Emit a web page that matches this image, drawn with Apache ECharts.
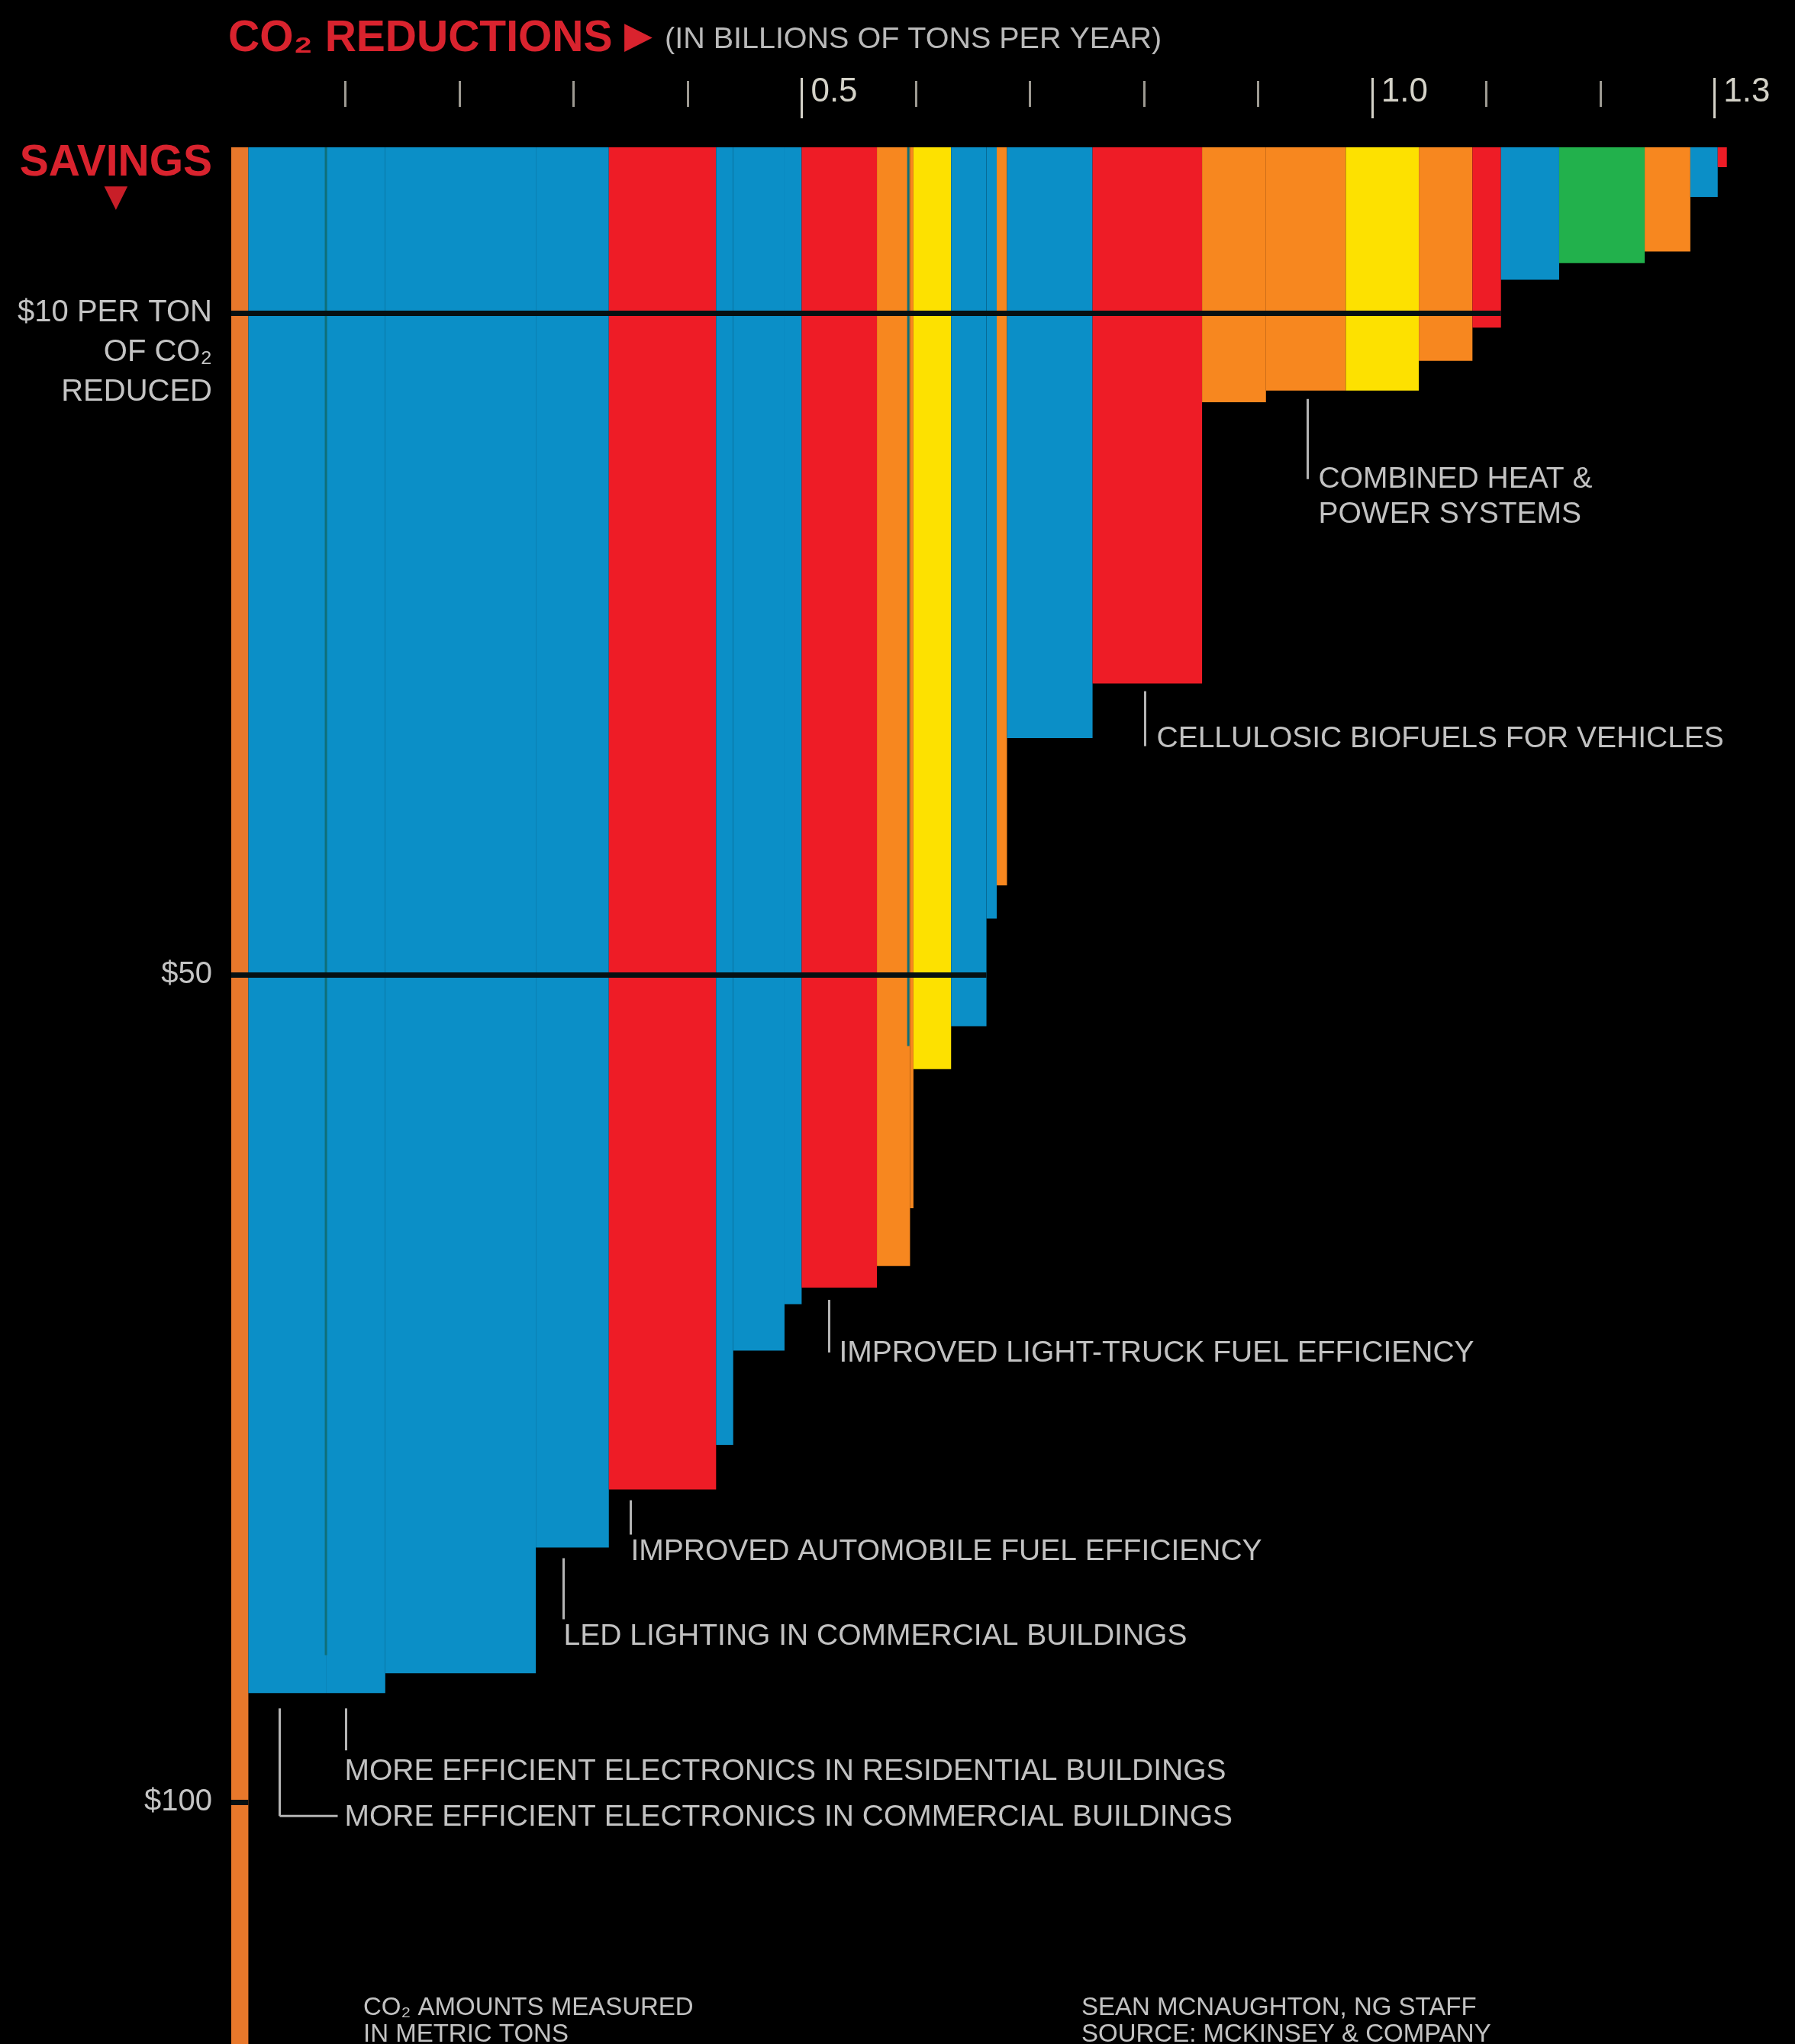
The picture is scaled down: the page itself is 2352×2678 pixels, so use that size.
<!DOCTYPE html>
<html>
<head>
<meta charset="utf-8">
<script src="https://cdn.jsdelivr.net/npm/echarts@6/dist/echarts.min.js"></script>
<style>
  html, body { margin: 0; padding: 0; background: #000; }
  #chart { width: 2352px; height: 2678px; }
</style>
</head>
<body>
<div id="chart"></div>
<script>
// CO2 abatement measures, ordered by savings per ton (largest first).
// Width of each bar: reduction in billions of tons per year.
const reductions = [
  0.015, 0.068, 0.052, 0.132, 0.064, 0.094, 0.015, 0.045, 0.015, 0.066,
  0.029, 0.003, 0.033, 0.031, 0.009, 0.009, 0.075, 0.096, 0.056, 0.070,
  0.064, 0.047, 0.025, 0.051, 0.075, 0.040, 0.024, 0.008
];
// Height of each bar: savings in dollars per ton of CO2 reduced
// (the first measure runs past the bottom of the scale).
const savings = [
  120, 93.4, 93.4, 92.2, 84.6, 81.1, 78.4, 72.7, 69.9, 68.9,
  67.6, 64.1, 55.7, 53.1, 46.6, 44.6, 35.7, 32.4, 15.4, 14.7,
  14.7, 12.9, 10.9, 8.0, 7.0, 6.3, 3.0, 1.2
];
const colorKeys = [
  'strip', 'blue', 'blue', 'blue', 'blue', 'red', 'blue', 'blue', 'blue', 'red',
  'orange', 'orange', 'yellow', 'blue', 'blue', 'orange', 'blue', 'red', 'orange', 'orange',
  'yellow', 'orange', 'red', 'blue', 'green', 'orange', 'blue', 'red'
];
const measureNames = [
  '', 'MORE EFFICIENT ELECTRONICS IN COMMERCIAL BUILDINGS',
  'MORE EFFICIENT ELECTRONICS IN RESIDENTIAL BUILDINGS', '',
  'LED LIGHTING IN COMMERCIAL BUILDINGS', 'IMPROVED AUTOMOBILE FUEL EFFICIENCY',
  '', '', '', 'IMPROVED LIGHT-TRUCK FUEL EFFICIENCY',
  '', '', '', '', '', '', '', 'CELLULOSIC BIOFUELS FOR VEHICLES', '',
  'COMBINED HEAT &\nPOWER SYSTEMS',
  '', '', '', '', '', '', '', ''
];
// Thin divider strokes inside the stack: [x position, savings where it stops]
const dividerX = [0.083, 0.5935];
const dividerEnd = [91.1, 54.3];

const xMinorTicks = [0.1, 0.2, 0.3, 0.4, 0.6, 0.7, 0.8, 0.9, 1.1, 1.2];
const xMajorTicks = [0.5, 1.0, 1.3];
const yLabelValues = [10, 50, 100];
const referenceLines = [10, 50, 100];

const FONT = "'Liberation Sans', Arial, sans-serif";
const palette = {
  strip: '#e8782b', blue: '#0b8fc7', red: '#ee1c26',
  orange: '#f7871f', yellow: '#fde100', green: '#22b14c'
};

// Callout placement relative to each labelled bar (pixels)
const calloutLayout = {
  'MORE EFFICIENT ELECTRONICS IN COMMERCIAL BUILDINGS': { dx: 41, gap: 20, len: 141, elbow: 76, tdx: 85, tdy: 2 },
  'MORE EFFICIENT ELECTRONICS IN RESIDENTIAL BUILDINGS': { dx: 26, gap: 20, len: 55, tdx: -2, tdy: 28 },
  'LED LIGHTING IN COMMERCIAL BUILDINGS': { dx: 36, gap: 14, len: 80, tdx: 0, tdy: 23 },
  'IMPROVED AUTOMOBILE FUEL EFFICIENCY': { dx: 28, gap: 14, len: 45, tdx: 0, tdy: 23 },
  'IMPROVED LIGHT-TRUCK FUEL EFFICIENCY': { dx: 36, gap: 16, len: 69, tdx: 13, tdy: 1 },
  'CELLULOSIC BIOFUELS FOR VEHICLES': { dx: 68, gap: 10, len: 72, tdx: 15, tdy: -9 },
  'COMBINED HEAT &\nPOWER SYSTEMS': { dx: 54, gap: 11, len: 105, tdx: 14, tdy: 0 }
};

// Build [start, end, savings] for each bar from the cumulative reductions
let acc = 0;
const barData = reductions.map((w, i) => {
  const start = acc;
  acc += w;
  return { value: [start, acc, savings[i], i], itemStyle: { color: palette[colorKeys[i]] } };
});
const calloutData = barData
  .filter((d, i) => measureNames[i] !== '')
  .map(d => ({ value: d.value.slice() }));
const dividerData = dividerX.map((x, i) => [x, dividerEnd[i]]);

// Each reference line runs across the bars that reach that savings level
const refLineData = referenceLines.map(v => {
  let end = 0;
  barData.forEach(d => { if (d.value[2] >= v) end = d.value[1]; });
  return [{ coord: [0, v] }, { coord: [end, v] }];
});

function renderBar(params, api) {
  const p0 = api.coord([api.value(0), 0]);
  const p1 = api.coord([api.value(1), api.value(2)]);
  return {
    type: 'rect',
    shape: { x: p0[0], y: p0[1], width: p1[0] - p0[0], height: p1[1] - p0[1] },
    style: { fill: api.visual('color') }
  };
}

function renderDivider(params, api) {
  const a = api.coord([api.value(0), 0]);
  const b = api.coord([api.value(0), api.value(1)]);
  return {
    type: 'line',
    shape: { x1: a[0], y1: a[1], x2: b[0], y2: b[1] },
    style: { stroke: '#0f6f78', lineWidth: 3 }
  };
}

function renderCallout(params, api) {
  const name = measureNames[api.value(3)];
  const L = calloutLayout[name];
  const base = api.coord([api.value(0), api.value(2)]);
  const px = Math.round(base[0] + L.dx) + 0.5;
  const y1 = base[1] + L.gap;
  const y2 = y1 + L.len;
  const children = [{
    type: 'line',
    shape: { x1: px, y1: y1, x2: px, y2: y2 },
    style: { stroke: '#b4b4b4', lineWidth: 3 }
  }];
  if (L.elbow) {
    children.push({
      type: 'line',
      shape: { x1: px, y1: y2, x2: px + L.elbow, y2: y2 },
      style: { stroke: '#b4b4b4', lineWidth: 3 }
    });
  }
  children.push({
    type: 'text',
    style: {
      text: name, x: px + L.tdx, y: y2 + L.tdy - 23,
      fill: '#c2c2c2', fontSize: 39, fontFamily: FONT,
      align: 'left', verticalAlign: 'top', lineHeight: 46
    }
  });
  return { type: 'group', children: children };
}

const chart = echarts.init(document.getElementById('chart'), null, { renderer: 'canvas' });

const topAxisBase = {
  type: 'value', position: 'top', min: 0, max: 1.35,
  axisLine: { show: false }, splitLine: { show: false }
};

chart.setOption({
  backgroundColor: '#000',
  animation: false,
  title: [
    { text: 'CO₂ REDUCTIONS', left: 299, top: 23, padding: 0,
      textStyle: { color: '#d9232e', fontSize: 57, fontWeight: 'bold', fontFamily: FONT, lineHeight: 57 } },
    { text: '▶', left: 818, top: 26, padding: 0,
      textStyle: { color: '#d9232e', fontSize: 48, lineHeight: 48, fontFamily: 'DejaVu Sans' } },
    { text: '(IN BILLIONS OF TONS PER YEAR)', left: 871, top: 32, padding: 0,
      textStyle: { color: '#b9b9b9', fontSize: 39.5, fontWeight: 'normal', fontFamily: FONT, lineHeight: 40 } },
    { text: 'CO₂ AMOUNTS MEASURED\nIN METRIC TONS', left: 476, top: 2613, padding: 0,
      textStyle: { color: '#c2c2c2', fontSize: 33, fontWeight: 'normal', fontFamily: FONT, lineHeight: 35 } },
    { text: 'SEAN MCNAUGHTON, NG STAFF\nSOURCE: MCKINSEY & COMPANY', left: 1417, top: 2613, padding: 0,
      textStyle: { color: '#c2c2c2', fontSize: 33, fontWeight: 'normal', fontFamily: FONT, lineHeight: 35 } }
  ],
  grid: { left: 303, right: 31, top: 193, bottom: 0, containLabel: false },
  xAxis: [
    Object.assign({}, topAxisBase, {
      offset: 40,
      axisTick: { show: false },
      axisLabel: {
        show: true, customValues: xMajorTicks, formatter: v => v.toFixed(1),
        color: '#d4d2c8', fontSize: 44, fontFamily: FONT,
        align: 'left', verticalAlign: 'middle', margin: 32, padding: [0, 0, 0, 12]
      }
    }),
    Object.assign({}, topAxisBase, {
      offset: 53,
      axisTick: { show: true, customValues: xMinorTicks, length: 34, lineStyle: { color: '#9d9a92', width: 3 } },
      axisLabel: { show: false }
    }),
    Object.assign({}, topAxisBase, {
      offset: 38,
      axisTick: { show: true, customValues: xMajorTicks, length: 53, lineStyle: { color: '#d4d2c8', width: 3 } },
      axisLabel: { show: false }
    })
  ],
  yAxis: {
    type: 'value', inverse: true, min: 0, max: 114.6,
    axisLine: { show: false }, splitLine: { show: false }, axisTick: { show: false },
    axisLabel: {
      customValues: yLabelValues,
      formatter: v => v === 10 ? '\n\n$10 PER TON\nOF CO₂\nREDUCED' : '$' + v,
      color: '#c4c4c4', fontSize: 40, fontFamily: FONT, lineHeight: 52, margin: 25, align: 'right'
    },
    name: '{s|SAVINGS}\n{t|▼}',
    nameLocation: 'start', nameGap: -9,
    nameTextStyle: {
      align: 'right', verticalAlign: 'top', padding: [0, 25, 0, 0],
      rich: {
        s: { color: '#d9232e', fontSize: 57, fontWeight: 'bold', fontFamily: FONT, lineHeight: 52 },
        t: { color: '#c81e28', fontSize: 40, lineHeight: 40, align: 'center', fontFamily: 'DejaVu Sans' }
      }
    }
  },
  series: [
    {
      type: 'custom', name: 'savings', renderItem: renderBar, clip: true,
      encode: { x: [0, 1], y: 2 }, data: barData, z: 2,
      markLine: {
        silent: true, symbol: 'none', label: { show: false },
        lineStyle: { color: '#061012', width: 7, type: 'solid' },
        data: refLineData
      }
    },
    {
      type: 'custom', name: 'dividers', renderItem: renderDivider, clip: true,
      encode: { x: 0, y: 1 }, data: dividerData, z: 3
    },
    {
      type: 'custom', name: 'callouts', renderItem: renderCallout, clip: false,
      encode: { x: [0, 1], y: 2 }, data: calloutData, z: 4
    }
  ]
});
</script>
</body>
</html>
